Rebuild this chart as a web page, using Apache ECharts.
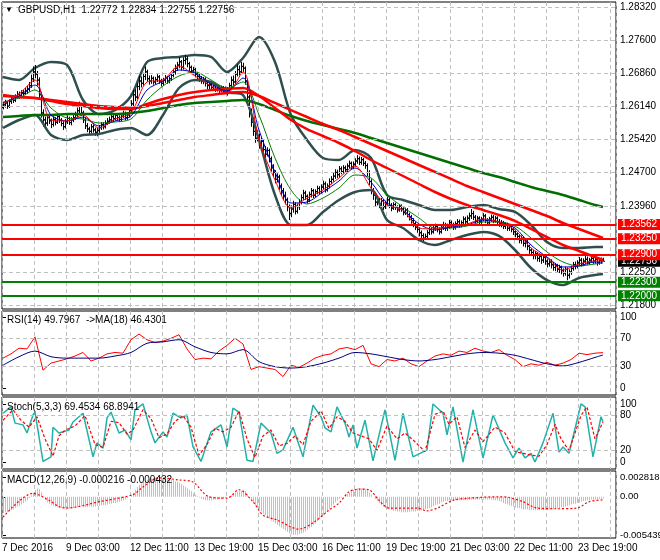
<!DOCTYPE html>
<html><head><meta charset="utf-8">
<script src="https://cdn.jsdelivr.net/npm/echarts@6/dist/echarts.min.js"></script>
<style>html,body{margin:0;padding:0;background:#fff}#c{width:660px;height:560px}</style>
</head><body><div id="c"></div>
<script>
const symbol = 'GBPUSD,H1';
const timeLabels = ['7 Dec 2016','9 Dec 03:00','12 Dec 11:00','13 Dec 19:00','15 Dec 03:00','16 Dec 11:00','19 Dec 19:00','21 Dec 03:00','22 Dec 11:00','23 Dec 19:00'];
const priceTicks = [1.28320,1.27600,1.26860,1.26140,1.25420,1.24700,1.23960,1.22520,1.21800];
const rsiTicks = [0,30,70,100];
const rsiLevels = [30,70];
const stochTicks = [0,20,80,100];
const stochLevels = [20,80];
const macdTicks = [-0.005439,0,0.002818];
const levelsRed = [1.23562,1.23250,1.22900];
const levelsGreen = [1.22300,1.22000];
const firstOpen = 1.2612;

const closes = [
1.2618,1.2622,1.2615,1.2625,1.2630,1.2628,1.2636,1.2641,1.2638,1.2645,1.2643,1.2648,1.2652,
1.2660,1.2675,1.2690,1.2685,1.2672,
1.2640,1.2600,1.2585,
1.2578,1.2590,1.2583,1.2575,1.2586,1.2580,1.2592,1.2584,1.2577,1.2570,1.2581,1.2588,1.2579,1.2585,1.2590,1.2596,
1.2605,1.2615,1.2600,1.2585,
1.2572,1.2565,1.2560,1.2570,1.2563,1.2558,1.2562,1.2568,1.2575,1.2570,1.2578,1.2582,
1.2585,1.2592,1.2588,1.2595,1.2590,1.2586,1.2593,1.2598,1.2590,1.2596,
1.2605,1.2620,1.2640,1.2635,1.2658,1.2670,1.2665,1.2680,1.2690,1.2675,
1.2670,1.2676,1.2668,1.2673,1.2679,1.2670,1.2665,1.2672,1.2677,1.2670,1.2675,1.2682,1.2690,
1.2698,1.2705,1.2712,1.2700,1.2715,1.2718,1.2708,
1.2700,1.2692,1.2695,1.2685,1.2680,1.2676,1.2670,1.2674,1.2665,1.2660,
1.2662,1.2656,1.2660,1.2652,1.2657,1.2650,1.2655,1.2648,1.2653,1.2645,
1.2660,1.2672,1.2668,1.2685,1.2695,1.2690,1.2702,1.2698,
1.2670,1.2635,1.2600,1.2580,1.2560,1.2545,
1.2550,1.2530,1.2538,1.2520,1.2510,1.2518,1.2500,
1.2480,1.2470,1.2455,1.2460,1.2440,1.2430,1.2420,1.2410,
1.2395,1.2380,1.2390,1.2400,1.2385,1.2395,1.2405,
1.2415,1.2425,1.2418,1.2410,1.2422,1.2430,1.2420,1.2428,
1.2435,1.2428,1.2438,1.2445,1.2432,1.2440,1.2450,
1.2455,1.2462,1.2470,1.2465,1.2478,1.2472,1.2480,1.2476,
1.2484,1.2490,1.2482,1.2488,1.2495,1.2500,1.2492,1.2498,1.2490,1.2485,
1.2470,1.2450,1.2430,1.2420,1.2405,1.2410,
1.2400,1.2408,1.2395,1.2402,1.2410,1.2398,1.2392,1.2400,1.2394,1.2388,1.2396,1.2390,1.2382,1.2388,1.2378,1.2372,
1.2365,1.2358,1.2350,1.2345,1.2338,1.2332,1.2326,1.2330,
1.2338,1.2345,1.2340,1.2348,1.2352,1.2345,1.2340,1.2350,1.2355,1.2348,
1.2352,1.2360,1.2355,1.2350,1.2358,1.2362,1.2355,1.2360,1.2368,1.2362,1.2370,1.2375,
1.2380,1.2372,1.2365,1.2370,1.2362,1.2368,1.2375,1.2365,1.2360,1.2368,1.2372,1.2365,1.2370,1.2362,1.2358,
1.2360,1.2352,1.2356,1.2348,1.2352,1.2345,1.2340,1.2335,
1.2330,1.2322,1.2326,1.2315,1.2318,1.2308,1.2300,
1.2295,1.2288,1.2292,1.2282,1.2286,1.2278,1.2284,1.2276,1.2270,1.2274,
1.2268,1.2262,1.2266,1.2258,1.2262,1.2255,1.2250,1.2258,1.2245,1.2252,
1.2260,1.2268,1.2265,1.2272,1.2278,1.2270,1.2276,1.2280,1.2274,1.2278,
1.2282,1.2276,1.2280,1.2272,1.2278,1.22772,1.22756];

const highs = [
1.2624,1.2629,1.2626,1.2630,1.2637,1.2635,1.2641,1.2648,1.2647,1.2650,1.2651,1.2655,1.2660,
1.2668,1.2684,1.2702,1.2705,1.2692,
1.2678,1.2645,1.2608,
1.2592,1.2597,1.2596,1.2588,1.2593,1.2591,1.2599,1.2597,1.2589,1.2582,1.2587,1.2595,1.2592,1.2591,1.2597,1.2603,
1.2612,1.2625,1.2620,1.2605,
1.2590,1.2578,1.2570,1.2576,1.2575,1.2568,1.2567,1.2574,1.2580,1.2580,1.2584,1.2589,
1.2592,1.2598,1.2597,1.2600,1.2600,1.2595,1.2598,1.2605,1.2603,1.2602,
1.2612,1.2628,1.2650,1.2652,1.2665,1.2682,1.2680,1.2688,1.2702,1.2695,
1.2682,1.2683,1.2680,1.2679,1.2685,1.2683,1.2675,1.2677,1.2683,1.2681,1.2680,1.2688,1.2697,
1.2706,1.2712,1.2722,1.2716,1.2722,1.2727,1.2724,
1.2712,1.2704,1.2701,1.2699,1.2690,1.2686,1.2681,1.2679,1.2678,1.2670,
1.2668,1.2667,1.2665,1.2664,1.2662,1.2661,1.2660,1.2659,1.2658,1.2657,
1.2666,1.2680,1.2682,1.2692,1.2706,1.2704,1.2712,1.2710,
1.2702,1.2675,1.2640,1.2610,1.2590,1.2568,
1.2562,1.2555,1.2546,1.2542,1.2528,1.2525,1.2522,
1.2505,1.2488,1.2475,1.2468,1.2465,1.2446,1.2436,1.2428,
1.2415,1.2400,1.2398,1.2408,1.2405,1.2402,1.2412,
1.2422,1.2432,1.2430,1.2422,1.2428,1.2436,1.2434,1.2433,
1.2441,1.2440,1.2444,1.2452,1.2450,1.2446,1.2457,
1.2462,1.2470,1.2477,1.2476,1.2484,1.2483,1.2486,1.2485,
1.2490,1.2496,1.2494,1.2494,1.2501,1.2508,1.2505,1.2504,1.2502,1.2495,
1.2490,1.2475,1.2455,1.2436,1.2425,1.2416,
1.2414,1.2414,1.2412,1.2408,1.2416,1.2414,1.2403,1.2405,1.2404,1.2398,1.2401,1.2400,1.2394,1.2393,1.2392,1.2382,
1.2377,1.2370,1.2362,1.2355,1.2350,1.2343,1.2337,1.2336,
1.2344,1.2351,1.2350,1.2354,1.2358,1.2357,1.2350,1.2355,1.2362,1.2360,
1.2358,1.2366,1.2365,1.2360,1.2363,1.2368,1.2367,1.2365,1.2374,1.2373,1.2376,1.2382,
1.2390,1.2386,1.2377,1.2375,1.2374,1.2373,1.2381,1.2379,1.2370,1.2373,1.2378,1.2377,1.2375,1.2374,1.2368,
1.2366,1.2364,1.2361,1.2360,1.2357,1.2356,1.2350,1.2345,
1.2340,1.2335,1.2332,1.2330,1.2324,1.2322,1.2312,
1.2305,1.2300,1.2298,1.2296,1.2292,1.2290,1.2290,1.2288,1.2280,1.2280,
1.2280,1.2274,1.2272,1.2270,1.2268,1.2266,1.2260,1.2264,1.2262,1.2258,
1.2266,1.2274,1.2275,1.2278,1.2285,1.2283,1.2282,1.2288,1.2286,1.2283,
1.2288,1.2287,1.2285,1.2284,1.2283,1.2284,1.22834];

const lows = [
1.2608,1.2612,1.2609,1.2611,1.2620,1.2622,1.2624,1.2632,1.2631,1.2633,1.2637,1.2639,1.2642,
1.2647,1.2655,1.2668,1.2676,1.2660,
1.2632,1.2590,1.2570,
1.2568,1.2572,1.2576,1.2567,1.2570,1.2573,1.2576,1.2578,1.2571,1.2563,1.2566,1.2576,1.2574,1.2573,1.2580,1.2585,
1.2590,1.2600,1.2594,1.2578,
1.2565,1.2558,1.2552,1.2555,1.2557,1.2550,1.2549,1.2556,1.2563,1.2564,1.2566,1.2574,
1.2577,1.2580,1.2582,1.2584,1.2584,1.2580,1.2582,1.2589,1.2584,1.2585,
1.2590,1.2600,1.2615,1.2626,1.2630,1.2650,1.2656,1.2660,1.2672,1.2668,
1.2662,1.2664,1.2662,1.2663,1.2668,1.2664,1.2658,1.2660,1.2666,1.2664,1.2665,1.2670,1.2678,
1.2684,1.2692,1.2698,1.2693,1.2695,1.2706,1.2700,
1.2692,1.2685,1.2684,1.2678,1.2672,1.2668,1.2664,1.2663,1.2658,1.2652,
1.2652,1.2650,1.2650,1.2646,1.2647,1.2644,1.2645,1.2642,1.2643,1.2638,
1.2642,1.2655,1.2660,1.2664,1.2680,1.2682,1.2686,1.2690,
1.2662,1.2625,1.2590,1.2570,1.2550,1.2535,
1.2538,1.2522,1.2524,1.2512,1.2502,1.2505,1.2492,
1.2472,1.2460,1.2446,1.2448,1.2432,1.2420,1.2410,1.2400,
1.2385,1.2366,1.2372,1.2382,1.2378,1.2380,1.2388,
1.2400,1.2410,1.2410,1.2402,1.2405,1.2415,1.2414,1.2416,
1.2422,1.2422,1.2424,1.2432,1.2426,1.2428,1.2435,
1.2444,1.2450,1.2456,1.2458,1.2460,1.2466,1.2468,1.2470,
1.2471,1.2478,1.2476,1.2477,1.2483,1.2489,1.2486,1.2487,1.2484,1.2478,
1.2462,1.2442,1.2422,1.2410,1.2396,1.2398,
1.2392,1.2395,1.2388,1.2390,1.2398,1.2392,1.2385,1.2388,1.2388,1.2382,1.2384,1.2384,1.2376,1.2377,1.2372,1.2365,
1.2358,1.2350,1.2344,1.2338,1.2330,1.2325,1.2320,1.2322,
1.2326,1.2333,1.2334,1.2336,1.2342,1.2339,1.2334,1.2336,1.2344,1.2342,
1.2342,1.2347,1.2349,1.2344,1.2345,1.2351,1.2349,1.2350,1.2355,1.2356,1.2357,1.2364,
1.2368,1.2366,1.2358,1.2359,1.2356,1.2357,1.2363,1.2359,1.2353,1.2355,1.2362,1.2359,1.2360,1.2356,1.2351,
1.2350,1.2346,1.2346,1.2342,1.2342,1.2339,1.2333,1.2328,
1.2322,1.2315,1.2314,1.2308,1.2306,1.2300,1.2292,
1.2287,1.2280,1.2280,1.2275,1.2274,1.2270,1.2272,1.2268,1.2262,1.2264,
1.2260,1.2255,1.2254,1.2250,1.2250,1.2247,1.2242,1.2244,1.2234,1.2238,
1.2246,1.2255,1.2258,1.2260,1.2266,1.2264,1.2265,1.2270,1.2268,1.2268,
1.2272,1.2270,1.2270,1.2266,1.2268,1.2270,1.22755];

// indicator lines read every 8 bars
const sampleIdx = [0,8,16,24,32,40,48,56,64,72,80,88,96,104,112,120,128,136,144,152,160,168,176,184,192,200,208,216,224,232,240,248,256,264,272,280,288,296,300];
const maFastRed = [1.26198,1.26416,1.26723,1.25847,1.25826,1.25957,1.25672,1.25869,1.26001,1.26679,1.26723,1.27029,1.26810,1.26591,1.26438,1.26898,1.25410,1.24535,1.23922,1.24141,1.24316,1.24579,1.24841,1.24360,1.23988,1.23878,1.23485,1.23463,1.23528,1.23572,1.23681,1.23616,1.23441,1.23047,1.22828,1.22565,1.22697,1.22762,1.22762];
const maFastBlue = [1.26220,1.26373,1.26613,1.25957,1.25826,1.25913,1.25716,1.25826,1.25935,1.26504,1.26701,1.26941,1.26876,1.26635,1.26482,1.26766,1.25629,1.24710,1.24031,1.24053,1.24272,1.24513,1.24797,1.24491,1.24031,1.23878,1.23572,1.23441,1.23506,1.23550,1.23659,1.23616,1.23485,1.23112,1.22850,1.22631,1.22653,1.22740,1.22740];
const maFastGreen = [1.26241,1.26329,1.26504,1.26110,1.25891,1.25869,1.25782,1.25804,1.25869,1.26285,1.26591,1.26810,1.26898,1.26723,1.26548,1.26679,1.25957,1.25016,1.24316,1.24010,1.24141,1.24360,1.24644,1.24579,1.24207,1.23944,1.23703,1.23485,1.23485,1.23528,1.23616,1.23616,1.23528,1.23266,1.22959,1.22740,1.22653,1.22697,1.22718];
const maRedMid = [1.26394,1.26351,1.26329,1.26263,1.26198,1.26154,1.26110,1.26088,1.26088,1.26198,1.26307,1.26394,1.26460,1.26504,1.26526,1.26548,1.26373,1.26110,1.25847,1.25650,1.25497,1.25344,1.25169,1.24972,1.24797,1.24622,1.24447,1.24272,1.24119,1.23988,1.23878,1.23769,1.23638,1.23463,1.23287,1.23112,1.22981,1.22850,1.22784];
const maRedSlow = [1.26373,1.26351,1.26329,1.26285,1.26241,1.26198,1.26154,1.26132,1.26110,1.26154,1.26220,1.26285,1.26351,1.26394,1.26438,1.26460,1.26373,1.26220,1.26065,1.25913,1.25760,1.25629,1.25475,1.25322,1.25169,1.25016,1.24863,1.24710,1.24557,1.24403,1.24272,1.24141,1.24010,1.23878,1.23747,1.23594,1.23463,1.23331,1.23266];
const maGreenSlow = [1.25913,1.25935,1.25957,1.25957,1.25979,1.25979,1.25979,1.25979,1.26001,1.26044,1.26110,1.26176,1.26220,1.26241,1.26263,1.26285,1.26198,1.26065,1.25935,1.25826,1.25738,1.25650,1.25563,1.25454,1.25344,1.25235,1.25125,1.25016,1.24907,1.24797,1.24688,1.24600,1.24491,1.24381,1.24294,1.24207,1.24097,1.23988,1.23944];
const bbUpper = [1.26788,1.26723,1.26985,1.27116,1.27051,1.26285,1.25979,1.26065,1.26373,1.27116,1.27204,1.27226,1.27270,1.27226,1.26898,1.27204,1.27663,1.27116,1.25957,1.25410,1.25016,1.24972,1.25191,1.25016,1.24207,1.24097,1.23988,1.23878,1.23878,1.23944,1.23988,1.23900,1.23835,1.23550,1.23178,1.23047,1.23047,1.23069,1.23069];
const bbLower = [1.25672,1.25847,1.25957,1.25519,1.25410,1.25519,1.25541,1.25629,1.25672,1.25519,1.25957,1.26548,1.26723,1.26679,1.26460,1.26394,1.25410,1.24207,1.23550,1.23550,1.23835,1.24097,1.24272,1.24316,1.23660,1.23485,1.23222,1.23112,1.23222,1.23331,1.23397,1.23310,1.23003,1.22609,1.22346,1.22237,1.22390,1.22456,1.22478];

// RSI(14) read every 4 bars, its MA(18) every 8 bars
const rsiIdx = [0,4,8,12,16,20,24,28,32,36,40,44,48,52,56,60,64,68,72,76,80,84,88,92,96,100,104,108,112,116,120,124,128,132,136,140,144,148,152,156,160,164,168,172,176,180,184,188,192,196,200,204,208,212,216,220,224,228,232,236,240,244,248,252,256,260,264,268,272,276,280,284,288,292,296,300];
const rsi = [42,48,56,55,72,25,35,38,41,45,50,38,42,48,50,49,68,76,68,64,66,70,75,55,40,42,41,52,60,70,62,26,30,28,26,16,32,29,35,42,46,48,55,57,54,60,34,30,40,38,42,34,30,38,45,48,46,52,50,56,52,50,54,46,40,30,34,32,36,32,35,40,49,47,49,49.7967];
const rsiMa = [32,44,52,44,42,42,42,45,50,63,65,68,58,50,48,54,37,30,28,30,35,42,50,48,44,40,38,40,44,48,50,49,46,40,34,31,36,43,46.4301];

// Stochastic (5,3,3): [bar, value]
const stochK = [[0,84],[4,95],[6,67],[10,64],[12,50],[15,81],[16,86],[20,1],[24,9],[25,60],[28,50],[33,55],[35,69],[40,84],[45,9],[47,33],[50,24],[52,76],[54,86],[58,50],[61,55],[64,38],[66,90],[70,100],[74,52],[76,33],[80,52],[82,43],[85,84],[89,76],[92,81],[95,26],[99,1],[104,52],[109,64],[112,26],[115,93],[118,86],[122,3],[125,1],[129,67],[134,50],[137,15],[140,21],[145,60],[150,9],[155,98],[159,78],[161,59],[164,52],[167,95],[171,67],[173,43],[175,64],[177,24],[181,72],[185,2],[191,90],[196,3],[200,84],[205,9],[212,21],[215,100],[220,84],[222,47],[225,95],[230,0],[235,90],[240,7],[245,81],[251,33],[255,7],[258,24],[261,7],[264,15],[266,0],[270,33],[275,84],[278,17],[280,26],[283,15],[289,100],[291,95],[295,9],[299,78],[300,69.4534]];
const stochD = [[0,72],[5,90],[9,72],[13,60],[17,78],[21,40],[25,10],[28,45],[31,55],[36,62],[41,80],[46,30],[50,25],[54,70],[58,68],[62,48],[65,55],[70,90],[74,75],[78,42],[82,48],[86,70],[90,80],[94,60],[98,12],[102,30],[106,58],[110,52],[114,60],[118,88],[122,40],[126,8],[130,45],[134,55],[138,28],[142,32],[146,45],[150,30],[154,70],[159,88],[163,58],[167,78],[171,70],[175,50],[179,45],[183,40],[187,20],[192,62],[197,40],[201,50],[206,35],[211,18],[216,82],[220,88],[223,65],[227,78],[231,25],[236,55],[240,35],[246,60],[251,50],[256,18],[260,15],[264,12],[268,10],[272,30],[276,65],[279,40],[283,20],[289,80],[292,95],[296,40],[300,68.8941]];

// MACD(12,26,9) main (histogram) per bar, signal [bar, value]
const macdHist = [
-0.0023,-0.0022,-0.0022,-0.0021,-0.0019,-0.0018,-0.0016,-0.0014,-0.0013,-0.0011,-0.0009,-0.0007,-0.0005,-0.0002,
0.0002,0.0006,0.0010,0.0012,0.0011,0.0006,0,
-0.0005,-0.0008,-0.0010,-0.0012,-0.0013,-0.0014,-0.0015,-0.0015,-0.0016,-0.0016,
-0.0016,-0.0016,-0.0017,-0.0016,-0.0016,-0.0015,-0.0015,-0.0014,-0.0013,-0.0015,
-0.0015,-0.0015,-0.0014,-0.0014,-0.0014,-0.0014,-0.0013,-0.0013,-0.0012,-0.0012,
-0.0012,-0.0011,-0.0010,-0.0010,-0.0009,-0.0009,-0.0008,-0.0007,-0.0006,-0.0005,
-0.0004,-0.0002,0,0.0003,0.0006,0.0010,0.0014,0.0017,0.0019,0.0021,
0.0023,0.0024,0.0025,0.0026,0.0027,0.0027,0.0028,0.0028,0.0028,0.0027,
0.0027,0.0026,0.0025,0.0025,0.0024,0.0022,0.0021,0.0020,0.0018,0.0016,
0.0014,0.0012,0.0010,0.0008,0.0005,0.0003,0.0001,-0.0001,-0.0003,-0.0004,
-0.0005,-0.0005,-0.0005,-0.0005,-0.0004,-0.0004,-0.0004,-0.0003,-0.0003,-0.0002,
-0.0001,0,0.0001,0.0002,0.0004,0.0006,0.0007,0.0008,0.0009,0.0010,
0.0008,0.0004,0,-0.0004,-0.0008,-0.0012,-0.0015,-0.0018,-0.0021,-0.0024,
-0.0026,-0.0029,-0.0031,-0.0034,-0.0036,-0.0038,-0.0040,-0.0042,-0.0044,-0.0046,
-0.0048,-0.0050,-0.0052,-0.0053,-0.0054,-0.0054,-0.0054,-0.0053,-0.0052,-0.0051,
-0.0049,-0.0047,-0.0045,-0.0043,-0.0040,-0.0038,-0.0035,-0.0032,-0.0029,-0.0026,
-0.0023,-0.0020,-0.0017,-0.0014,-0.0011,-0.0008,-0.0005,-0.0003,-0.0001,0,
0.0002,0.0004,0.0006,0.0008,0.0010,0.0011,0.0012,0.0012,0.0012,0.0011,
0.0011,0.0009,0.0006,0.0003,0,-0.0003,-0.0006,-0.0009,-0.0012,-0.0014,
-0.0016,-0.0017,-0.0018,-0.0019,-0.0020,-0.0020,-0.0021,-0.0021,-0.0022,-0.0022,
-0.0022,-0.0022,-0.0022,-0.0021,-0.0021,-0.0021,-0.0020,-0.0020,-0.0019,-0.0018,
-0.0018,-0.0017,-0.0016,-0.0015,-0.0013,-0.0012,-0.0011,-0.0010,-0.0008,-0.0007,
-0.0006,-0.0006,-0.0005,-0.0005,-0.0005,-0.0005,-0.0005,-0.0005,-0.0005,-0.0005,
-0.0005,-0.0005,-0.0004,-0.0004,-0.0004,-0.0004,-0.0004,-0.0004,-0.0004,-0.0004,
-0.0004,-0.0004,-0.0004,-0.0004,-0.0005,-0.0005,-0.0005,-0.0006,-0.0007,-0.0009,
-0.0010,-0.0011,-0.0012,-0.0013,-0.0014,-0.0015,-0.0016,-0.0016,-0.0017,-0.0018,
-0.0018,-0.0018,-0.0019,-0.0019,-0.0019,-0.0019,-0.0019,-0.0019,-0.0019,-0.0019,
-0.0019,-0.0019,-0.0018,-0.0018,-0.0018,-0.0017,-0.0017,-0.0016,-0.0015,-0.0015,
-0.0014,-0.0013,-0.0012,-0.0011,-0.0010,-0.0010,-0.0009,-0.0008,-0.0007,-0.0006,
-0.0006,-0.0005,-0.0005,-0.0004,-0.0004,-0.0004,-0.0003,-0.0003,-0.0003,-0.000216];
const macdSignal = [[0,-0.0029],[15,0.0005],[23,-0.0005],[28,-0.0014],[32,-0.0016],[48,-0.0007],[65,0.0003],[70,0.0014],[78,0.0027],[88,0.0024],[95,0.0021],[103,0],[112,-0.0002],[118,0.0010],[125,-0.0007],[130,-0.0026],[137,-0.0033],[148,-0.0046],[155,-0.0037],[163,-0.0019],[168,-0.0009],[173,0.0007],[178,0.0011],[183,0.0010],[188,-0.0005],[193,-0.0016],[207,-0.0016],[212,-0.0020],[218,-0.0015],[225,-0.0005],[233,-0.0002],[248,0],[253,-0.0001],[260,-0.0007],[267,-0.0016],[277,-0.0017],[287,-0.0016],[293,-0.0007],[300,-0.000432]];

// ---------------------------------------------------------------
const FONT = 'Liberation Sans';
const pairs = (idx, vals) => idx.map((x, k) => [x, vals[k]]);
const bars = closes.map((c, i) => [i, i ? closes[i - 1] : firstOpen, c, lows[i], highs[i]]);
const last = bars[bars.length - 1];
const titleText = symbol + '  ' + [last[1], last[4], last[3], last[2]].map(v => v.toFixed(5)).join(' ');
const rsiText = 'RSI(14) ' + rsi[rsi.length - 1].toFixed(4) + '  ->MA(18) ' + rsiMa[rsiMa.length - 1].toFixed(4);
const stochText = 'Stoch(5,3,3) ' + stochK[stochK.length - 1][1].toFixed(4) + ' ' + stochD[stochD.length - 1][1].toFixed(4);
const macdText = 'MACD(12,26,9) ' + macdHist[macdHist.length - 1].toFixed(6) + ' ' + macdSignal[macdSignal.length - 1][1].toFixed(6);

const gridBase = {show: true, borderColor: '#000', borderWidth: 1, backgroundColor: 'transparent', containLabel: false, outerBoundsMode: 'none'};
const grids = [
  Object.assign({left: 2, right: 44, top: 2, height: 307}, gridBase),
  Object.assign({left: 2, right: 44, top: 311, height: 84}, gridBase),
  Object.assign({left: 2, right: 44, top: 397, height: 72}, gridBase),
  Object.assign({left: 2, right: 44, top: 471, height: 67}, gridBase)
];
function xAx(k) {
  return {
    type: 'value', gridIndex: k, min: -0.5, max: 306.5, interval: 16,
    axisLine: {show: false}, axisTick: {show: false},
    axisLabel: {
      show: k === 3, align: 'left', margin: 5, color: '#000', fontFamily: FONT, fontSize: 10,
      showMinLabel: true, showMaxLabel: true,
      formatter: v => { const r = (v + 0.5) / 16, q = Math.round(r); if (Math.abs(r - q) > 1e-6 || q % 2) return ''; return timeLabels[q / 2] || ''; }
    },
    splitLine: {show: true, lineStyle: {color: '#C0C0C0', type: [4, 3], width: 1}}
  };
}
function yAx(k, min, max, ticks, fmt, size) {
  return {
    type: 'value', gridIndex: k, position: 'right', min: min, max: max,
    axisLine: {show: false}, splitLine: {show: false},
    axisTick: {show: true, customValues: ticks, length: 3, lineStyle: {color: '#000'}},
    axisLabel: {customValues: ticks, formatter: fmt, color: '#000', fontFamily: FONT, fontSize: size || 10, margin: 4}
  };
}
const gridLine = vals => ({silent: true, symbol: ['none', 'none'], precision: 6, label: {show: false}, animation: false,
  lineStyle: {color: '#C0C0C0', type: [4, 3], width: 1}, data: vals.map(v => ({yAxis: v}))});
const levelLabel = (bg) => ({show: true, position: 'end', distance: 2, formatter: p => Number(p.value).toFixed(5),
  backgroundColor: bg, color: '#fff', fontFamily: FONT, fontSize: 10, lineHeight: 11, padding: [0, 3, 0, 3], opacity: 1});

function renderBar(params, api) {
  const i = api.value(0);
  const o = api.coord([i, api.value(1)]);
  const c = api.coord([i, api.value(2)]);
  const l = api.coord([i, api.value(3)]);
  const h = api.coord([i, api.value(4)]);
  const x = Math.round(o[0]) + 0.5;
  const st = {stroke: '#000', lineWidth: 1};
  return {type: 'group', children: [
    {type: 'line', shape: {x1: x, y1: l[1], x2: x, y2: h[1]}, style: st},
    {type: 'line', shape: {x1: x - 1.5, y1: o[1], x2: x, y2: o[1]}, style: st},
    {type: 'line', shape: {x1: x, y1: c[1], x2: x + 1.5, y2: c[1]}, style: st}
  ]};
}
function renderHist(params, api) {
  const i = api.value(0);
  const a = api.coord([i, 0]);
  const b = api.coord([i, api.value(1)]);
  const x = Math.round(a[0]) + 0.5;
  return {type: 'line', shape: {x1: x, y1: a[1], x2: x, y2: b[1]}, style: {stroke: '#C0C0C0', lineWidth: 1}};
}
const lineS = (name, data, color, width, extra) => Object.assign({
  name: name, type: 'line', xAxisIndex: 0, yAxisIndex: 0, data: data, showSymbol: false, smooth: 0.3,
  lineStyle: {color: color, width: width}, itemStyle: {color: color}, silent: true, animation: false, z: 3
}, extra || {});

const series = [
  {name: 'bars', type: 'custom', xAxisIndex: 0, yAxisIndex: 0, renderItem: renderBar, data: bars,
   encode: {x: 0, y: [1, 2, 3, 4]}, silent: true, z: 2},
  lineS('bbUpper', pairs(sampleIdx, bbUpper), '#2F4F4F', 2.5, {z: 1, markLine: gridLine(priceTicks)}),
  lineS('bbLower', pairs(sampleIdx, bbLower), '#2F4F4F', 2.5),
  lineS('maGreenSlow', pairs(sampleIdx, maGreenSlow), '#006E00', 2.5, {
    markLine: {silent: true, symbol: ['none', 'none'], precision: 6, animation: false, data: [
      {yAxis: last[2], lineStyle: {color: 'rgba(0,0,0,0)', width: 1, type: 'solid'}, label: levelLabel('#000000')},
      ...levelsRed.map(v => ({yAxis: v, lineStyle: {color: '#FF0000', width: 2, type: 'solid'}, label: levelLabel('#FF0000')})),
      ...levelsGreen.map(v => ({yAxis: v, lineStyle: {color: '#008000', width: 2, type: 'solid'}, label: levelLabel('#008000')}))
    ]}}),
  lineS('maRedSlow', pairs(sampleIdx, maRedSlow), '#FF0000', 2.5),
  lineS('maRedMid', pairs(sampleIdx, maRedMid), '#FF0000', 2.5),
  lineS('maFastGreen', pairs(sampleIdx, maFastGreen), '#008000', 1),
  lineS('maFastBlue', pairs(sampleIdx, maFastBlue), '#0000C8', 1),
  lineS('maFastRed', pairs(sampleIdx, maFastRed), '#FF0000', 1),
  // RSI
  {name: 'rsi', type: 'line', xAxisIndex: 1, yAxisIndex: 1, data: pairs(rsiIdx, rsi), showSymbol: false,
   lineStyle: {color: '#FF0000', width: 1}, silent: true, animation: false, markLine: gridLine(rsiLevels)},
  {name: 'rsiMa', type: 'line', xAxisIndex: 1, yAxisIndex: 1, data: pairs(sampleIdx, rsiMa), showSymbol: false, smooth: 0.3,
   lineStyle: {color: '#000080', width: 1}, silent: true, animation: false},
  // Stochastic
  {name: 'stochK', type: 'line', xAxisIndex: 2, yAxisIndex: 2, data: stochK, showSymbol: false,
   lineStyle: {color: '#20B2AA', width: 1.5}, silent: true, animation: false, markLine: gridLine(stochLevels)},
  {name: 'stochD', type: 'line', xAxisIndex: 2, yAxisIndex: 2, data: stochD, showSymbol: false,
   lineStyle: {color: '#FF0000', width: 1.2, type: [3, 2]}, silent: true, animation: false},
  // MACD
  {name: 'macd', type: 'custom', xAxisIndex: 3, yAxisIndex: 3, renderItem: renderHist,
   data: macdHist.map((v, i) => [i, v]), encode: {x: 0, y: 1}, silent: true, z: 2},
  {name: 'signal', type: 'line', xAxisIndex: 3, yAxisIndex: 3, data: macdSignal, showSymbol: false, smooth: 0.3,
   lineStyle: {color: '#FF0000', width: 1.2, type: [2, 2]}, silent: true, animation: false, z: 3}
];

const txt = (t, left, top, size) => ({type: 'text', left: left, top: top, z: 100, silent: true,
  style: {text: t, fill: '#000', font: (size || 10) + 'px "' + FONT + '"'}});

const option = {
  backgroundColor: '#fff',
  animation: false,
  textStyle: {fontFamily: FONT},
  grid: grids,
  xAxis: [xAx(0), xAx(1), xAx(2), xAx(3)],
  yAxis: [
    yAx(0, 1.21712, 1.28429, priceTicks, v => v.toFixed(5)),
    yAx(1, -10, 108.5, rsiTicks, v => String(v)),
    yAx(2, -12, 112, stochTicks, v => String(v)),
    yAx(3, -0.005866, 0.003672, macdTicks, v => v === 0 ? '0.00' : v.toFixed(6), 9.5)
  ],
  graphic: [
    txt('\u25BC', 5, 6, 8),
    txt(titleText, 18, 5),
    txt(rsiText, 7, 315),
    txt(stochText, 7, 402),
    txt(macdText, 7, 475)
  ],
  series: series
};
const chart = echarts.init(document.getElementById('c'), null, {width: 660, height: 560});
chart.setOption(option);
</script>
</body></html>
